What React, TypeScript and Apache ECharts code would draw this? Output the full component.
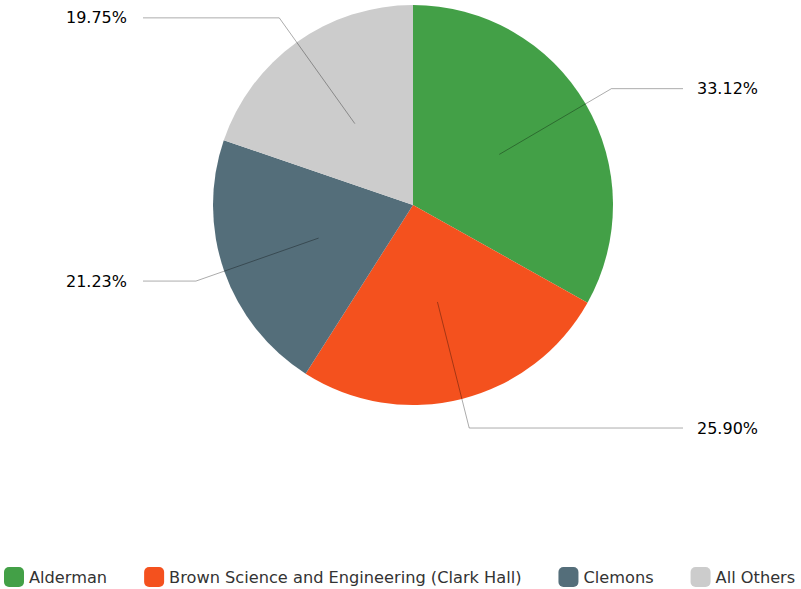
import React, { useEffect, useRef } from "react";
import * as echarts from "echarts";

const categories = ["Alderman", "Brown Science and Engineering (Clark Hall)", "Clemons", "All Others"];
const values = [33.12, 25.9, 21.23, 19.75];
const colors = ["#43a047", "#f4511e", "#546e7a", "#cccccc"];

const CX = 413;
const CY = 205;
const R = 200;
const FONT = "'DejaVu Sans', sans-serif";

export default function App() {
  const ref = useRef<HTMLDivElement>(null);
  useEffect(() => {
    if (!ref.current) return;
    const chart = echarts.init(ref.current, null, { renderer: "svg" });
    const total = values.reduce((a, b) => a + b, 0);
    const mids: number[] = [];
    let acc = 0;
    values.forEach((v) => {
      mids.push(((acc + v / 2) / total) * 360);
      acc += v;
    });
    const pieData = categories.map((name, i) => ({ name, value: values[i] }));
    chart.setOption({
      animation: false,
      color: colors,
      textStyle: { fontFamily: FONT },
      legend: {
        data: categories,
        left: 4,
        top: 567,
        padding: 0,
        itemWidth: 20,
        itemHeight: 20,
        itemGap: 37,
        icon: "roundRect",
        textStyle: { fontSize: 16.2, color: "#333", fontFamily: FONT },
        selectedMode: false,
      },
      series: [
        {
          type: "pie",
          z: 2,
          center: [CX, CY],
          radius: R,
          startAngle: 90,
          clockwise: true,
          silent: true,
          emphasis: { disabled: true },
          data: pieData,
          label: { show: false },
          labelLine: { show: false },
        },
        {
          type: "pie",
          z: 3,
          center: [CX, CY],
          radius: R,
          startAngle: 90,
          clockwise: true,
          silent: true,
          emphasis: { disabled: true },
          data: pieData,
          itemStyle: { color: "rgba(0,0,0,0)" },
          label: {
            show: true,
            position: "outside",
            formatter: (p: any) => (p.value as number).toFixed(2) + "%",
            fontSize: 16,
            color: "#000",
            fontFamily: FONT,
          },
          labelLine: {
            show: true,
            lineStyle: { color: "rgba(0,0,0,0.33)", width: 1 },
          },
          labelLayout: (params: any) => {
            const th = (mids[params.dataIndex] * Math.PI) / 180;
            const ux = Math.sin(th);
            const uy = -Math.cos(th);
            const a = [CX + ux * R * 0.5, CY + uy * R * 0.5];
            const b = [CX + ux * R * 1.15, CY + uy * R * 1.15];
            const right = ux >= 0;
            const c = [right ? 683 : 143, b[1]];
            return {
              x: right ? 697 : 127,
              y: b[1],
              align: right ? "left" : "right",
              verticalAlign: "middle",
              labelLinePoints: [a, b, c],
            };
          },
        },
      ],
    });
    return () => chart.dispose();
  }, []);
  return (
    <div
      ref={ref}
      style={{ position: "absolute", left: 0, top: 0, width: 801, height: 589 }}
    />
  );
}
